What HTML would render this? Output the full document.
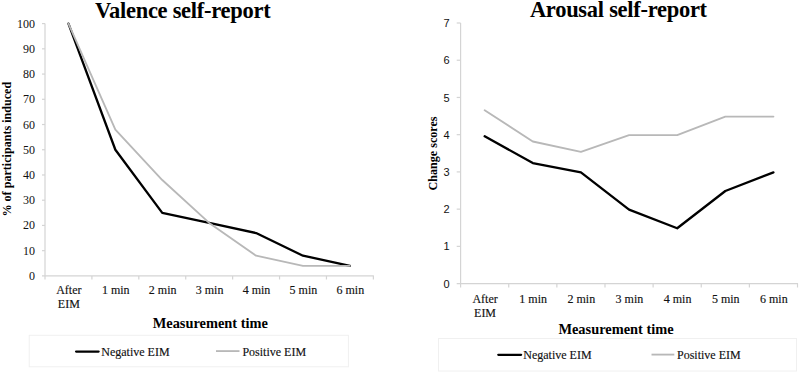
<!DOCTYPE html>
<html><head><meta charset="utf-8"><style>
html,body{margin:0;padding:0;background:#fff;}
svg{display:block;}
text{fill:#111;}
.tl{stroke:#111;stroke-width:0.15px;}
.tl,.yl{font:12px "Liberation Serif",serif;}
.yr{font:11px "Liberation Sans",sans-serif;}
.ti{font:bold 22.5px "Liberation Serif",serif;fill:#000;stroke:none;letter-spacing:-0.28px;}
.at{font:bold 14.4px "Liberation Serif",serif;fill:#000;stroke:none;}
.yt{font:bold 12.1px "Liberation Serif",serif;fill:#000;stroke:none;}
</style></head><body>
<svg width="800" height="374" viewBox="0 0 800 374">
<rect width="800" height="374" fill="#fff"/>
<line x1="45" y1="23.6" x2="45" y2="275.9" stroke="#d4d4d4" stroke-width="1.2"/>
<line x1="42" y1="275.9" x2="373.87" y2="275.9" stroke="#d4d4d4" stroke-width="1.2"/>
<text x="35.1" y="279.9" text-anchor="end" class="yl">0</text>
<line x1="42" y1="250.67" x2="45" y2="250.67" stroke="#d4d4d4" stroke-width="1.2"/>
<text x="35.1" y="254.67" text-anchor="end" class="yl">10</text>
<line x1="42" y1="225.44" x2="45" y2="225.44" stroke="#d4d4d4" stroke-width="1.2"/>
<text x="35.1" y="229.44" text-anchor="end" class="yl">20</text>
<line x1="42" y1="200.21" x2="45" y2="200.21" stroke="#d4d4d4" stroke-width="1.2"/>
<text x="35.1" y="204.21" text-anchor="end" class="yl">30</text>
<line x1="42" y1="174.98" x2="45" y2="174.98" stroke="#d4d4d4" stroke-width="1.2"/>
<text x="35.1" y="178.98" text-anchor="end" class="yl">40</text>
<line x1="42" y1="149.75" x2="45" y2="149.75" stroke="#d4d4d4" stroke-width="1.2"/>
<text x="35.1" y="153.75" text-anchor="end" class="yl">50</text>
<line x1="42" y1="124.52" x2="45" y2="124.52" stroke="#d4d4d4" stroke-width="1.2"/>
<text x="35.1" y="128.52" text-anchor="end" class="yl">60</text>
<line x1="42" y1="99.29" x2="45" y2="99.29" stroke="#d4d4d4" stroke-width="1.2"/>
<text x="35.1" y="103.29" text-anchor="end" class="yl">70</text>
<line x1="42" y1="74.06" x2="45" y2="74.06" stroke="#d4d4d4" stroke-width="1.2"/>
<text x="35.1" y="78.06" text-anchor="end" class="yl">80</text>
<line x1="42" y1="48.83" x2="45" y2="48.83" stroke="#d4d4d4" stroke-width="1.2"/>
<text x="35.1" y="52.83" text-anchor="end" class="yl">90</text>
<line x1="42" y1="23.6" x2="45" y2="23.6" stroke="#d4d4d4" stroke-width="1.2"/>
<text x="35.1" y="27.6" text-anchor="end" class="yl">100</text>
<line x1="45" y1="275.9" x2="45" y2="279.5" stroke="#d4d4d4" stroke-width="1.2"/>
<line x1="91.91" y1="275.9" x2="91.91" y2="279.5" stroke="#d4d4d4" stroke-width="1.2"/>
<line x1="138.82" y1="275.9" x2="138.82" y2="279.5" stroke="#d4d4d4" stroke-width="1.2"/>
<line x1="185.73" y1="275.9" x2="185.73" y2="279.5" stroke="#d4d4d4" stroke-width="1.2"/>
<line x1="232.64" y1="275.9" x2="232.64" y2="279.5" stroke="#d4d4d4" stroke-width="1.2"/>
<line x1="279.55" y1="275.9" x2="279.55" y2="279.5" stroke="#d4d4d4" stroke-width="1.2"/>
<line x1="326.46" y1="275.9" x2="326.46" y2="279.5" stroke="#d4d4d4" stroke-width="1.2"/>
<line x1="373.37" y1="275.9" x2="373.37" y2="279.5" stroke="#d4d4d4" stroke-width="1.2"/>
<text x="68.86" y="294.25" text-anchor="middle" class="tl">After</text>
<text x="68.86" y="308.4" text-anchor="middle" class="tl">EIM</text>
<text x="115.77" y="294.25" text-anchor="middle" class="tl">1 min</text>
<text x="162.67" y="294.25" text-anchor="middle" class="tl">2 min</text>
<text x="209.59" y="294.25" text-anchor="middle" class="tl">3 min</text>
<text x="256.49" y="294.25" text-anchor="middle" class="tl">4 min</text>
<text x="303.4" y="294.25" text-anchor="middle" class="tl">5 min</text>
<text x="350.31" y="294.25" text-anchor="middle" class="tl">6 min</text>
<polyline points="68.45,23.6 115.36,149.75 162.27,212.82 209.19,222.92 256.09,233.01 303,255.72 349.91,265.81" fill="none" stroke="#000" stroke-width="2.3" stroke-linejoin="round" stroke-linecap="round"/>
<polyline points="68.45,23.6 115.36,129.57 162.27,180.03 209.19,222.92 256.09,255.72 303,265.81 349.91,265.81" fill="none" stroke="#b8b8b8" stroke-width="1.85" stroke-linejoin="round" stroke-linecap="round"/>
<line x1="460.6" y1="23" x2="460.6" y2="283.6" stroke="#d4d4d4" stroke-width="1.2"/>
<line x1="456.7" y1="283.6" x2="798.01" y2="283.6" stroke="#d4d4d4" stroke-width="1.2"/>
<text x="449.6" y="287.7" text-anchor="end" class="yr">0</text>
<line x1="456.7" y1="246.37" x2="460.6" y2="246.37" stroke="#d4d4d4" stroke-width="1.2"/>
<text x="449.6" y="250.47" text-anchor="end" class="yr">1</text>
<line x1="456.7" y1="209.14" x2="460.6" y2="209.14" stroke="#d4d4d4" stroke-width="1.2"/>
<text x="449.6" y="213.24" text-anchor="end" class="yr">2</text>
<line x1="456.7" y1="171.91" x2="460.6" y2="171.91" stroke="#d4d4d4" stroke-width="1.2"/>
<text x="449.6" y="176.01" text-anchor="end" class="yr">3</text>
<line x1="456.7" y1="134.69" x2="460.6" y2="134.69" stroke="#d4d4d4" stroke-width="1.2"/>
<text x="449.6" y="138.79" text-anchor="end" class="yr">4</text>
<line x1="456.7" y1="97.46" x2="460.6" y2="97.46" stroke="#d4d4d4" stroke-width="1.2"/>
<text x="449.6" y="101.56" text-anchor="end" class="yr">5</text>
<line x1="456.7" y1="60.23" x2="460.6" y2="60.23" stroke="#d4d4d4" stroke-width="1.2"/>
<text x="449.6" y="64.33" text-anchor="end" class="yr">6</text>
<line x1="456.7" y1="23" x2="460.6" y2="23" stroke="#d4d4d4" stroke-width="1.2"/>
<text x="449.6" y="27.1" text-anchor="end" class="yr">7</text>
<line x1="460.6" y1="283.6" x2="460.6" y2="287.5" stroke="#d4d4d4" stroke-width="1.2"/>
<line x1="508.73" y1="283.6" x2="508.73" y2="287.5" stroke="#d4d4d4" stroke-width="1.2"/>
<line x1="556.86" y1="283.6" x2="556.86" y2="287.5" stroke="#d4d4d4" stroke-width="1.2"/>
<line x1="604.99" y1="283.6" x2="604.99" y2="287.5" stroke="#d4d4d4" stroke-width="1.2"/>
<line x1="653.12" y1="283.6" x2="653.12" y2="287.5" stroke="#d4d4d4" stroke-width="1.2"/>
<line x1="701.25" y1="283.6" x2="701.25" y2="287.5" stroke="#d4d4d4" stroke-width="1.2"/>
<line x1="749.38" y1="283.6" x2="749.38" y2="287.5" stroke="#d4d4d4" stroke-width="1.2"/>
<line x1="797.51" y1="283.6" x2="797.51" y2="287.5" stroke="#d4d4d4" stroke-width="1.2"/>
<text x="485.06" y="302.6" text-anchor="middle" class="tl">After</text>
<text x="485.06" y="316.6" text-anchor="middle" class="tl">EIM</text>
<text x="533.2" y="302.6" text-anchor="middle" class="tl">1 min</text>
<text x="581.33" y="302.6" text-anchor="middle" class="tl">2 min</text>
<text x="629.46" y="302.6" text-anchor="middle" class="tl">3 min</text>
<text x="677.59" y="302.6" text-anchor="middle" class="tl">4 min</text>
<text x="725.72" y="302.6" text-anchor="middle" class="tl">5 min</text>
<text x="773.85" y="302.6" text-anchor="middle" class="tl">6 min</text>
<polyline points="484.67,136.3 532.8,163.11 580.93,172.41 629.06,209.64 677.19,228.26 725.32,191.03 773.45,172.41" fill="none" stroke="#000" stroke-width="2.3" stroke-linejoin="round" stroke-linecap="round"/>
<polyline points="484.67,110.24 532.8,141.51 580.93,151.94 629.06,135.19 677.19,135.19 725.32,116.57 773.45,116.57" fill="none" stroke="#b8b8b8" stroke-width="1.85" stroke-linejoin="round" stroke-linecap="round"/>
<text x="95.1" y="17.6" class="ti">Valence self-report</text>
<text x="529.9" y="16.5" class="ti">Arousal self-report</text>
<text x="210.3" y="328.2" text-anchor="middle" class="at">Measurement time</text>
<text x="616" y="334.2" text-anchor="middle" class="at">Measurement time</text>
<text transform="translate(11,149.2) rotate(-90)" text-anchor="middle" class="yt">% of participants induced</text>
<text transform="translate(437,153.5) rotate(-90)" text-anchor="middle" class="yt">Change scores</text>
<rect x="29.2" y="335.3" width="319.2" height="31.5" fill="none" stroke="#f0f0f0" stroke-width="1"/>
<line x1="76.1" y1="351.6" x2="98.6" y2="351.6" stroke="#000" stroke-width="2.3" stroke-linecap="round"/>
<text x="101.3" y="356" class="tl">Negative EIM</text>
<line x1="216" y1="351.1" x2="239.5" y2="351.1" stroke="#b8b8b8" stroke-width="1.85"/>
<text x="242.4" y="356" class="tl">Positive EIM</text>
<rect x="438.5" y="338.5" width="358" height="32.5" fill="none" stroke="#f0f0f0" stroke-width="1"/>
<line x1="498.3" y1="354.8" x2="521.1" y2="354.8" stroke="#000" stroke-width="2.3" stroke-linecap="round"/>
<text x="523.3" y="359" class="tl">Negative EIM</text>
<line x1="651.5" y1="354.6" x2="674.3" y2="354.6" stroke="#b8b8b8" stroke-width="1.85"/>
<text x="677" y="359" class="tl">Positive EIM</text>
</svg>
</body></html>
